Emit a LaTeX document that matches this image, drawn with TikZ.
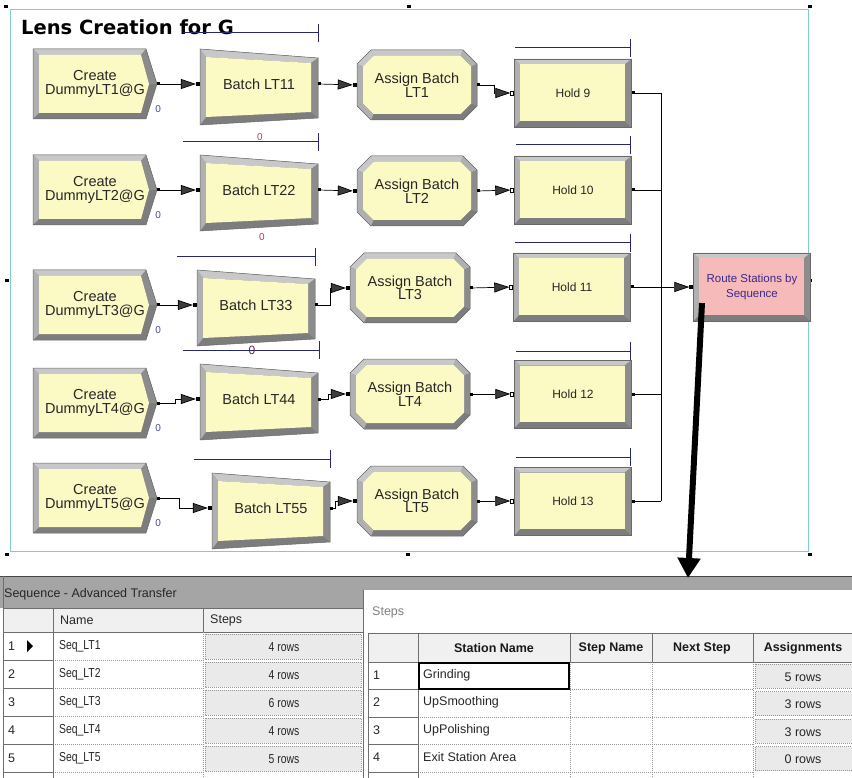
\documentclass[tikz,border=0pt]{standalone}
\usepackage{fontspec}
\setmainfont{Liberation Sans}
\newfontfamily\titlefam{DejaVu Sans}
\newfontfamily\narrowfam[FakeStretch=0.8]{Liberation Sans}
\usetikzlibrary{arrows.meta,calc}

\definecolor{modfill}{RGB}{252,250,196}
\definecolor{routefill}{RGB}{246,186,186}
\definecolor{bvtop}{RGB}{200,200,200}
\definecolor{bvleft}{RGB}{176,176,176}
\definecolor{bvright}{RGB}{140,140,140}
\definecolor{bvdark}{RGB}{125,125,125}
\definecolor{bvline}{RGB}{105,105,105}
\definecolor{framecyan}{RGB}{125,205,205}
\definecolor{queuenavy}{RGB}{40,40,110}
\definecolor{arrowgray}{RGB}{60,60,60}
\definecolor{cntblue}{RGB}{70,70,160}
\definecolor{cntred}{RGB}{175,60,95}
\definecolor{routetext}{RGB}{60,40,140}
\definecolor{bandgray}{RGB}{165,165,165}
\definecolor{hdrbg}{RGB}{240,240,240}
\definecolor{btnbg}{RGB}{234,234,234}
\definecolor{gridd}{RGB}{110,110,110}
\definecolor{gridl}{RGB}{150,150,150}

% one quadrilateral of a bevelled border
\newcommand\bevq[5]{\fill[#1] #2 -- #3 -- #4 -- #5 -- cycle;}

% Create module: chevron pointing right
\newcommand\createmod[4]{%
  \begin{scope}[shift={(#2,#3)}]
    \fill[bvdark] (-62,-35) -- (51,-35) -- (62,0) -- (51,35) -- (-62,35) -- cycle;
    \bevq{bvtop}{(-62,-35)}{(51,-35)}{(46,-29)}{(-56,-29)}
    \bevq{bvleft}{(-62,-35)}{(-56,-29)}{(-56,29)}{(-62,35)}
    \bevq{bvright}{(51,-35)}{(62,0)}{(54,0)}{(46,-29)}
    \fill[modfill] (-56,-29) -- (46,-29) -- (54,0) -- (46,29) -- (-56,29) -- cycle;
    \draw[bvline,line width=0.5pt] (-62,-35) -- (51,-35) -- (62,0) -- (51,35) -- (-62,35) -- cycle;
  \end{scope}
  \node[modtext, minimum width=124pt] (#1) at (#2,#3) {#4};
  \node[cnt, text=cntblue] (#1cnt) at ($(#1.east)+(1,25)$) {0};
}

% Batch module: trapezoid, taller on the left
\newcommand\batchmod[4]{%
  \begin{scope}[shift={(#2,#3)}]
    \fill[bvdark] (-59,-35) -- (59,-26) -- (59,34) -- (-59,41) -- cycle;
    \bevq{bvtop}{(-59,-35)}{(59,-26)}{(52,-21)}{(-53,-27)}
    \bevq{bvleft}{(-59,-35)}{(-53,-27)}{(-53,33)}{(-59,41)}
    \bevq{bvright}{(59,-26)}{(59,34)}{(52,28)}{(52,-21)}
    \fill[modfill] (-53,-27) -- (52,-21) -- (52,28) -- (-53,33) -- cycle;
    \draw[bvline,line width=0.5pt] (-59,-35) -- (59,-26) -- (59,34) -- (-59,41) -- cycle;
  \end{scope}
  \node[modtext, minimum width=118pt] (#1) at (#2,#3) {#4};
}

% Assign module: octagon
\newcommand\assignmod[4]{%
  \begin{scope}[shift={(#2,#3)}]
    \fill[bvdark] (-46,-35) -- (46,-35) -- (60,-21) -- (60,21) -- (46,35) -- (-46,35) -- (-60,21) -- (-60,-21) -- cycle;
    \bevq{bvtop}{(-46,-35)}{(46,-35)}{(43.5,-29)}{(-43.5,-29)}
    \bevq{bvtop}{(-60,-21)}{(-46,-35)}{(-43.5,-29)}{(-54,-18.5)}
    \bevq{bvleft}{(-60,-21)}{(-54,-18.5)}{(-54,18.5)}{(-60,21)}
    \bevq{bvleft}{(46,-35)}{(60,-21)}{(54,-18.5)}{(43.5,-29)}
    \bevq{bvleft}{(-60,21)}{(-54,18.5)}{(-43.5,29)}{(-46,35)}
    \bevq{bvright}{(60,-21)}{(60,21)}{(54,18.5)}{(54,-18.5)}
    \fill[modfill] (-43.5,-29) -- (43.5,-29) -- (54,-18.5) -- (54,18.5) -- (43.5,29) -- (-43.5,29) -- (-54,18.5) -- (-54,-18.5) -- cycle;
    \draw[bvline,line width=0.5pt] (-46,-35) -- (46,-35) -- (60,-21) -- (60,21) -- (46,35) -- (-46,35) -- (-60,21) -- (-60,-21) -- cycle;
  \end{scope}
  \node[modtext, minimum width=120pt] (#1) at (#2,#3) {#4};
}

% Rectangular module (Hold, Route): #5 = face colour, #6 = text style
\newcommand\rectmod[6]{%
  \begin{scope}[shift={(#2,#3)}]
    \fill[bvdark] (-58.5,-34) rectangle (58.5,34);
    \bevq{bvtop}{(-58.5,-34)}{(58.5,-34)}{(53,-28.5)}{(-53,-28.5)}
    \bevq{bvleft}{(-58.5,-34)}{(-53,-28.5)}{(-53,28)}{(-58.5,34)}
    \bevq{bvright}{(58.5,-34)}{(58.5,34)}{(51.5,28)}{(51.5,-28.5)}
    \fill[#5] (-53,-28.5) rectangle (51.5,28);
    \draw[bvline,line width=0.5pt] (-58.5,-34) rectangle (58.5,34);
  \end{scope}
  \node[#6, minimum width=117pt] (#1) at (#2,#3) {#4};
}

% connection points
\newcommand\entrysq[1]{\fill ([xshift=-4pt,yshift=-2pt]#1.west) rectangle ([yshift=2pt]#1.west);}
\newcommand\hentrysq[1]{\filldraw[fill=white,line width=0.6pt] ([xshift=-4.5pt,yshift=-2pt]#1.west) rectangle ([xshift=-0.8pt,yshift=2pt]#1.west);}
\newcommand\exitsq[1]{\fill ([yshift=-1.5pt]#1.east) rectangle ([xshift=3pt,yshift=1.5pt]#1.east);}

\begin{document}
\begin{tikzpicture}[x=1pt,y=-1pt,
  modtext/.style={inner sep=0pt, align=center, text=black!85,
    font=\fontsize{14.5}{13.5}\selectfont},
  holdtext/.style={inner sep=0pt, align=center, text=black!85,
    font=\fontsize{12}{13}\selectfont},
  routetxt/.style={inner sep=0pt, align=center, text=routetext,
    font=\fontsize{11.5}{15}\selectfont},
  cnt/.style={inner sep=0pt, font=\fontsize{10}{10}\selectfont},
  conn/.style={line width=0.7pt, -{Triangle[length=15pt,width=10pt,fill=arrowgray]}, shorten >=4pt},
  plainconn/.style={line width=0.7pt},
  queue/.style={draw=queuenavy, line width=1pt},
  tick/.style={draw=queuenavy, line width=1pt},
  tbltxt/.style={inner sep=0pt, anchor=west, text=black!85, font=\fontsize{12.5}{13}\selectfont},
  tblnarrow/.style={inner sep=0pt, anchor=west, text=black!85, font=\narrowfam\fontsize{13}{13}\selectfont},
  tblhead/.style={inner sep=0pt, text=black!90, font=\bfseries\fontsize{12.5}{13}\selectfont},
  btncell/.style={draw=gridl, dash pattern=on 1pt off 1pt, line width=0.5pt},
  solidgrid/.style={draw=gridd, line width=0.8pt},
  dotgrid/.style={draw=gridl, line width=0.5pt, dash pattern=on 1pt off 1pt}
]
\useasboundingbox (0,0) rectangle (852,778);
\fill[white] (0,0) rectangle (852,778);

% ---------- submodel frame ----------
\draw[framecyan, line width=1pt] (10,10) rectangle (808,551);
\foreach \hx/\hy in {6/7, 409/7, 810/7, 7/281, 810/281, 7/554, 408/554, 810/554}{
  \fill ({\hx-2},{\hy-1.5}) rectangle ({\hx+2},{\hy+1.5});
}

\node[anchor=base west, inner sep=0pt, font=\titlefam\bfseries\fontsize{19.5}{19.5}\selectfont]
  (title) at (21,35) {Lens Creation for G};

% ---------- queue bars ----------
\foreach \ya/\xa/\xb in {33/183/318, 142/183/318, 257/177/315, 350/183/319, 459/194/330,
                          48/515/630, 145/516/630, 243/515/630, 351/516/630, 457/516/630}{
  \draw[queue] (\xa,\ya) -- (\xb,\ya);
  \draw[tick] (\xb,{\ya-9}) -- (\xb,{\ya+9});
}

% ---------- modules ----------
\createmod{c1}{95}{84}{Create\\DummyLT1@G}
\createmod{c2}{95}{190}{Create\\DummyLT2@G}
\createmod{c3}{95}{305}{Create\\DummyLT3@G}
\createmod{c4}{95}{403}{Create\\DummyLT4@G}
\createmod{c5}{95}{498}{Create\\DummyLT5@G}

\batchmod{b1}{259}{84}{Batch LT11}
\batchmod{b2}{259}{190}{Batch LT22}
\batchmod{b3}{256}{305}{Batch LT33}
\batchmod{b4}{259}{399}{Batch LT44}
\batchmod{b5}{271}{508}{Batch LT55}

\assignmod{a1}{417}{85}{Assign Batch\\LT1}
\assignmod{a2}{417}{191}{Assign Batch\\LT2}
\assignmod{a3}{410}{288}{Assign Batch\\LT3}
\assignmod{a4}{410}{394}{Assign Batch\\LT4}
\assignmod{a5}{417}{501}{Assign Batch\\LT5}

\rectmod{h1}{573}{93}{Hold 9}{modfill}{holdtext}
\rectmod{h2}{573}{190}{Hold 10}{modfill}{holdtext}
\rectmod{h3}{572}{287}{Hold 11}{modfill}{holdtext}
\rectmod{h4}{573}{394}{Hold 12}{modfill}{holdtext}
\rectmod{h5}{573}{501}{Hold 13}{modfill}{holdtext}

\rectmod{r}{752}{287}{Route Stations by\\Sequence}{routefill}{routetxt}

% batch counters
\node[cnt, text=cntred] (b1cnt) at (260,137) {0};
\node[cnt, text=cntred] (b2cnt) at (262,237) {0};
\node[cnt, text=cntred!60!black, font=\fontsize{12}{12}\selectfont] (b3cnt) at (252,350) {0};

% ---------- connections ----------
\draw[conn] (c1.east) -- (b1.west);
\draw[conn] (c2.east) -- (b2.west);
\draw[conn] (c3.east) -- (b3.west);
\draw[conn] (c4.east) -- ++(18,0) |- (b4.west);
\draw[conn] (c5.east) -- ++(22,0) |- (b5.west);

\draw[conn] (b1.east) -- (a1.west);
\draw[conn] (b2.east) -- (a2.west);
\draw[conn] (b3.east) -- ++(15,0) |- (a3.west);
\draw[conn] (b4.east) -- ++(10,0) |- (a4.west);
\draw[conn] (b5.east) -- ++(5,0) |- (a5.west);

\draw[conn] (a1.east) -- ++(17,0) |- (h1.west);
\draw[conn] (a2.east) -- (h2.west);
\draw[conn] (a3.east) -- (h3.west);
\draw[conn] (a4.east) -- (h4.west);
\draw[conn] (a5.east) -- (h5.west);

\coordinate (merge) at (661,287);
\foreach \h in {h1,h2,h3,h4,h5}{
  \draw[plainconn] (\h.east) -- (\h.east -| merge);
}
\draw[plainconn] (h1.east -| merge) -- (h5.east -| merge);
\draw[conn] (merge) -- (r.west);

\foreach \m in {c1,c2,c3,c4,c5,b1,b2,b3,b4,b5,a1,a2,a3,a4,a5,h1,h2,h3,h4,h5}{
  \exitsq{\m}
}
\foreach \m in {b1,b2,b3,b4,b5,a1,a2,a3,a4,a5,r}{
  \entrysq{\m}
}
\foreach \m in {h1,h2,h3,h4,h5}{
  \hentrysq{\m}
}

% ---------- window title bands ----------
\fill[bandgray] (0,576) rectangle (852,590);
\fill[bandgray] (0,590) rectangle (363,608);
\draw[gray!55!black, line width=0.8pt] (0,576) -- (852,576);

% ---------- sequence table ----------
\node[tbltxt] (seqtitle) at (4,594) {Sequence - Advanced Transfer};
\fill[hdrbg] (3,608) rectangle (363,632);
\node[tbltxt] (colname) at (60,620) {Name};
\node[tbltxt] (colsteps) at (210,620) {Steps};
\foreach \i/\nm/\st in {1/Seq\_LT1/4, 2/Seq\_LT2/4, 3/Seq\_LT3/6, 4/Seq\_LT4/4, 5/Seq\_LT5/5}{
  \pgfmathsetmacro\yt{632+28*(\i-1)}
  \fill[btnbg] (205,\yt+2) rectangle (361,\yt+27);
  \draw[btncell] (205,\yt+2) rectangle (361,\yt+27);
  \node[tbltxt] (rn\i) at (8,\yt+14) {\i};
  \node[tblnarrow] (nm\i) at (59,\yt+14) {\nm};
  \node[inner sep=0pt, text=black!85, font=\narrowfam\fontsize{13}{13}\selectfont] (st\i) at (284,\yt+15) {\st\ rows};
  \draw[solidgrid] (3,\yt+28) -- (53,\yt+28);
  \draw[dotgrid] (53,\yt+28) -- (203,\yt+28);
}
\fill (27,640) -- (33,646) -- (27,652) -- cycle;
\draw[solidgrid] (3,608) -- (363,608);
\draw[solidgrid] (3,632) -- (363,632);
\draw[solidgrid] (3,576) -- (3,778);
\draw[solidgrid] (53,608) -- (53,778);
\draw[solidgrid] (203,608) -- (203,632);
\draw[dotgrid] (203,632) -- (203,778);

% ---------- steps window ----------
\fill[white] (363,590) rectangle (852,778);
\draw[gridd, line width=0.9pt] (363,590) -- (363,778);
\node[tbltxt, text=black!50] (stepslbl) at (372,612) {Steps};
\fill[hdrbg] (368,633) rectangle (852,662);
\draw[solidgrid] (368,633) -- (852,633);
\draw[solidgrid] (368,662) -- (852,662);
\foreach \cx in {368,418,570,652,753}{
  \draw[solidgrid] (\cx,633) -- (\cx,662);
}
\node[tblhead] (hstation) at (494,648) {Station Name};
\node[tblhead] (hstep) at (611,648) {Step Name};
\node[tblhead] (hnext) at (702,648) {Next Step};
\node[tblhead] (hassign) at (803,648) {Assignments};
\foreach \i/\sn/\ar in {1/Grinding/5, 2/UpSmoothing/3, 3/UpPolishing/3, 4/Exit Station Area/0}{
  \pgfmathsetmacro\yt{662+27.5*(\i-1)}
  \fill[btnbg] (755,\yt+2) rectangle (852,\yt+26);
  \draw[btncell] (755,\yt+2) rectangle (852,\yt+26);
  \node[tbltxt] (sr\i) at (373,\yt+13) {\i};
  \node[tbltxt] (sn\i) at (423,\yt+13) {\sn};
  \node[inner sep=0pt, text=black!85, font=\fontsize{12.5}{13}\selectfont] (sa\i) at (803,\yt+15) {\ar\ rows};
  \draw[solidgrid] (368,\yt+27.5) -- (418,\yt+27.5);
  \draw[dotgrid] (418,\yt+27.5) -- (753,\yt+27.5);
}
\draw[solidgrid] (368,662) -- (368,778);
\draw[solidgrid] (418,662) -- (418,778);
\foreach \cx in {570,652,753}{
  \draw[dotgrid] (\cx,662) -- (\cx,778);
}
\draw[line width=2.2pt] (419,663) rectangle (569,689);

% ---------- pointer from the route module to its steps ----------
\coordinate (steptop) at (688,578);
\draw[line width=6pt, -{Triangle[length=20pt,width=22pt]}] ($(r.south)+(-50,3)$) -- (steptop);
\end{tikzpicture}
\end{document}
